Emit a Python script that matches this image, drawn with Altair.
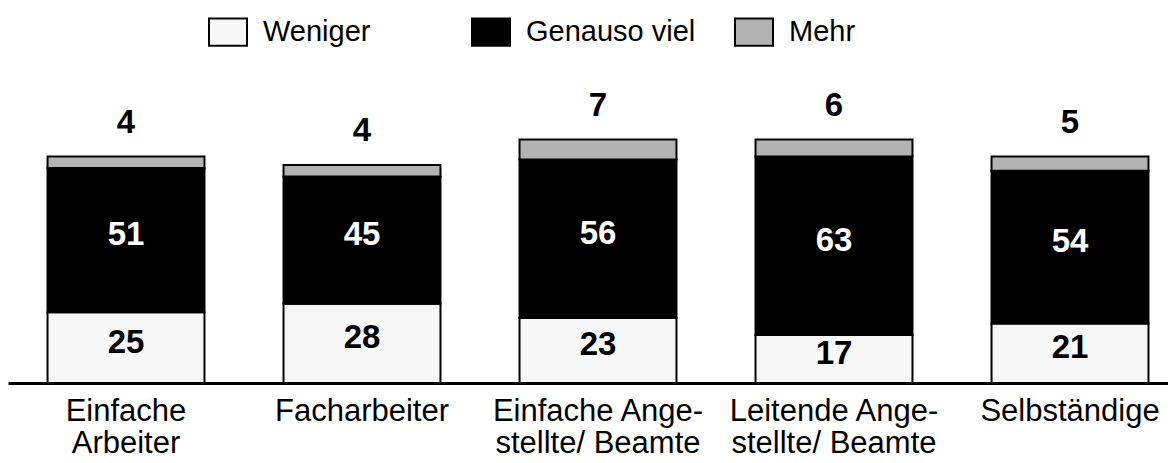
import altair as alt
import pandas as pd

categories = ["Einfache|Arbeiter", "Facharbeiter", "Einfache Ange-|stellte/ Beamte",
              "Leitende Ange-|stellte/ Beamte", "Selbständige"]
groups = ["Weniger", "Genauso viel", "Mehr"]
weniger = [25, 28, 23, 17, 21]
genauso = [51, 45, 56, 63, 54]
mehr = [4, 4, 7, 6, 5]
colors = ["#f7f7f7", "#000000", "#b3b3b3"]

rows = []
for i, c in enumerate(categories):
    for k, (g, vals) in enumerate(zip(groups, [weniger, genauso, mehr])):
        rows.append({"category": c, "group": g, "value": vals[i], "order": k})
df = pd.DataFrame(rows)

FONT = "Liberation Sans"

base = alt.Chart(df).transform_stack(
    stack="value", as_=["y0", "y1"], groupby=["category"], sort=[{"field": "order"}]
).transform_calculate(mid="(datum.y0 + datum.y1) / 2")

x_enc = alt.X("category:N", sort=categories, title=None,
              scale=alt.Scale(range=[0, 1180], paddingInner=0.335, paddingOuter=0.1675),
              axis=alt.Axis(labelExpr="split(datum.label, '|')", labelAngle=0,
                            labelFont=FONT, labelFontSize=31, labelColor="black",
                            labelLineHeight=32, labelPadding=13, ticks=False,
                            labelLimit=400, labelOverlap=False, labelBound=False,
                            domainColor="black", domainWidth=3))
y_scale = alt.Scale(domain=[0, 100])

bars = base.mark_bar(stroke="black", strokeWidth=2).encode(
    x=x_enc,
    y=alt.Y("y0:Q", scale=y_scale, axis=None),
    y2="y1:Q",
    color=alt.Color("group:N", sort=groups,
                    scale=alt.Scale(domain=groups, range=colors),
                    legend=alt.Legend(title=None, orient="none", direction="horizontal",
                                      columns=3, gridAlign="all", columnPadding=35,
                                      legendX=200, legendY=-88,
                                      symbolType="M-1,-0.72L1,-0.72L1,0.72L-1,0.72Z",
                                      symbolSize=1444, symbolStrokeColor="black",
                                      symbolStrokeWidth=2, symbolOpacity=1,
                                      labelFont=FONT, labelFontSize=29, labelColor="black",
                                      labelLimit=400, labelOffset=15, padding=0)),
    order=alt.Order("order:Q"),
)

inner = base.transform_filter("datum.group != 'Mehr'").mark_text(
    font=FONT, fontSize=33, fontWeight="bold", baseline="middle", dy=-5
).encode(
    x=alt.X("category:N", sort=categories),
    y=alt.Y("mid:Q", scale=y_scale),
    text=alt.Text("value:Q"),
    color=alt.condition("datum.group == 'Genauso viel'", alt.value("white"), alt.value("black")),
)

top = base.transform_filter("datum.group == 'Mehr'").mark_text(
    font=FONT, fontSize=33, fontWeight="bold", baseline="alphabetic", dy=-24, color="black"
).encode(
    x=alt.X("category:N", sort=categories),
    y=alt.Y("y1:Q", scale=y_scale),
    text=alt.Text("value:Q"),
)

chart = alt.layer(bars, inner, top).properties(
    width=1160, height=283,
    autosize=alt.AutoSizeParams(type="none"),
    padding={"left": 0, "top": 92, "right": 0, "bottom": 80},
).configure_view(stroke=None)

chart.save("out.html", embed_options={"renderer": "svg", "actions": False})
